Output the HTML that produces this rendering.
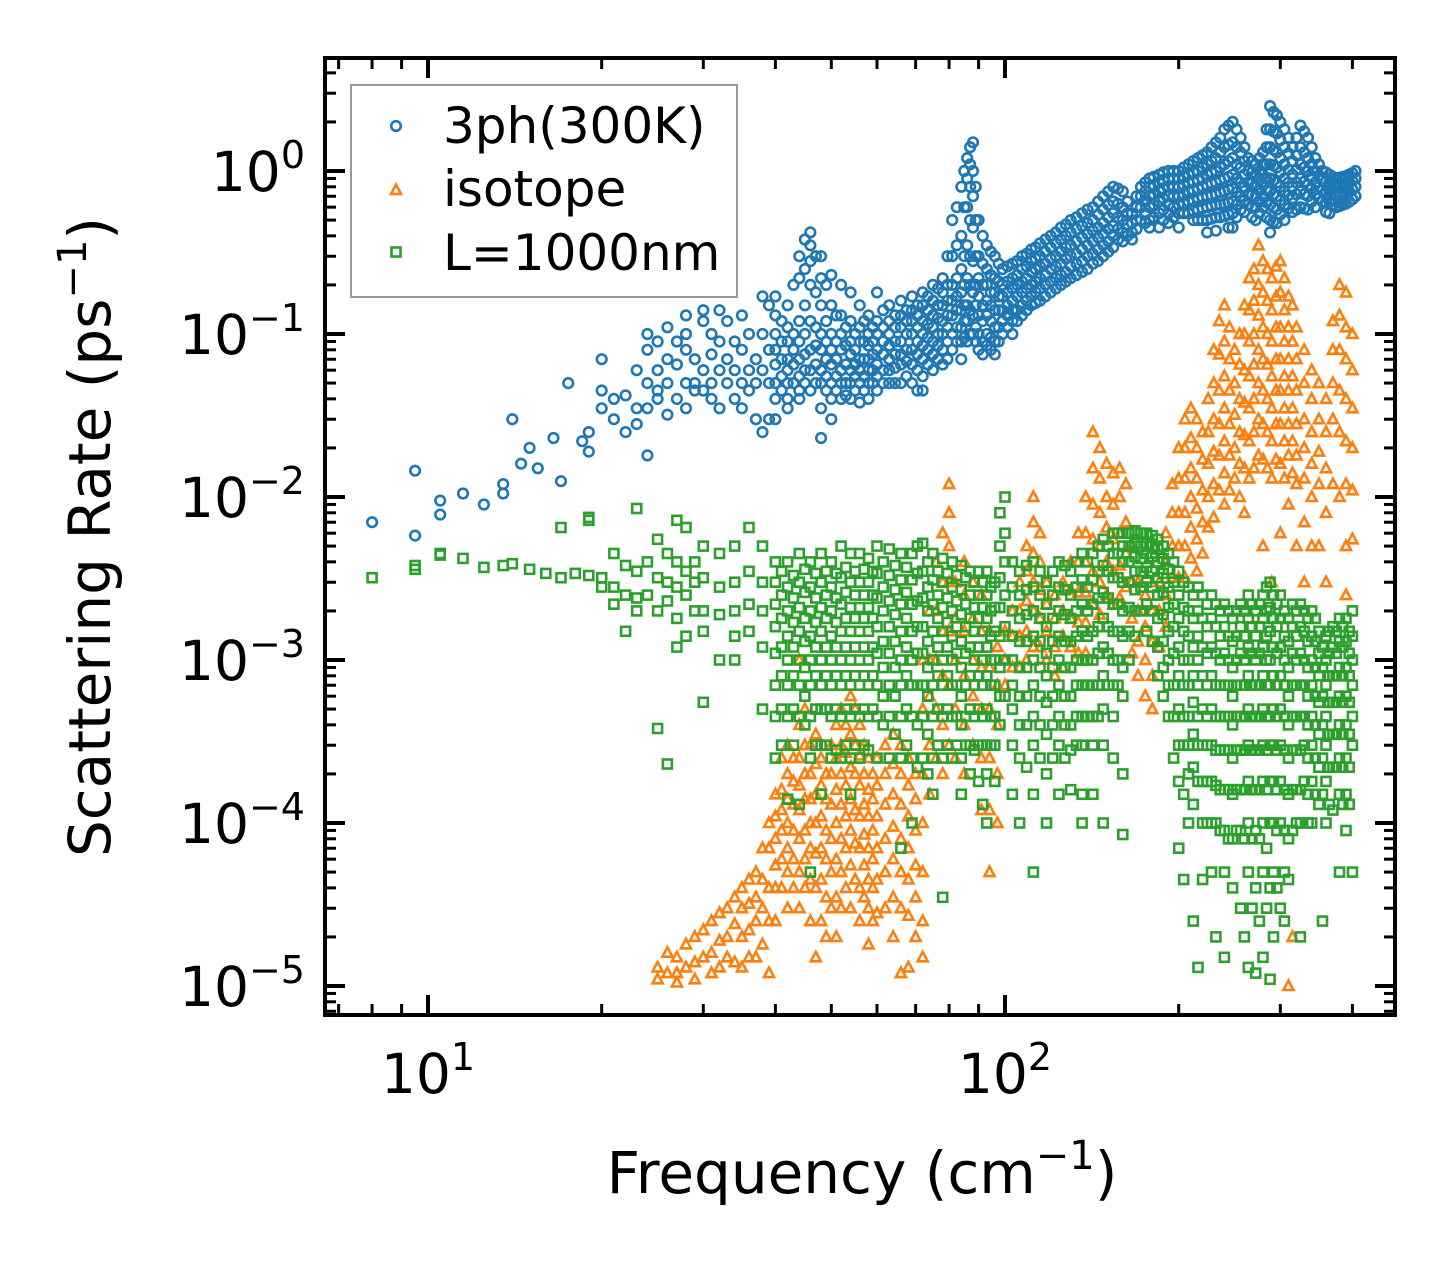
<!DOCTYPE html>
<html><head><meta charset="utf-8"><style>
html,body{margin:0;padding:0;background:#fff;}
svg{display:block;font-family:"DejaVu Sans","Liberation Sans",sans-serif;}
</style></head><body>
<svg id="chart" width="1455" height="1265" viewBox="0 0 1455 1265" xmlns="http://www.w3.org/2000/svg">
<rect width="1455" height="1265" fill="#fff"/>
<g id="plot"></g>
<g id="axes"></g>
</svg>
<script>
// ---- data: [frequency, [rates...]] ----
const series3ph = [
[8,[0.007]],[9.5,[0.0145,0.0058]],[10.5,[0.0095,0.0078]],[11.5,[0.0105]],[12.5,[0.009]],[13.5,[0.012,0.0105]],
[14,[0.03]],[14.5,[0.016]],[15,[0.02]],[15.5,[0.015]],[16.5,[0.023]],[17,[0.0125]],[17.5,[0.05]],[18.5,[0.022]],
[19,[0.025,0.019]],[20,[0.07,0.045,0.035]],[21,[0.03,0.04]],[22,[0.025,0.042]],[23,[0.06,0.035,0.028]],
[24,[0.1,0.08,0.05,0.035,0.018]],[25,[0.09,0.06,0.045,0.04]],[26,[0.11,0.07,0.05,0.032]],[27,[0.09,0.065,0.04]],
[28,[0.13,0.1,0.08,0.05,0.035]],[29,[0.07,0.05,0.045]],[30,[0.12,0.14,0.06,0.045]],[31,[0.1,0.075,0.05,0.04]],
[32,[0.14,0.09,0.06,0.035]],[33,[0.12,0.07,0.05]],[34,[0.09,0.06,0.04]],[35,[0.13,0.08,0.05,0.035]],
[36,[0.1,0.06,0.045]],[37,[0.07,0.05,0.03]],[38,[0.17,0.1,0.06,0.025]],[39,[0.15,0.08,0.05,0.03]],
[40,[0.17,0.13,0.1,0.08,0.065,0.05,0.04,0.03]],[41,[0.12,0.09,0.07,0.055,0.045]],
[42,[0.15,0.11,0.09,0.07,0.06,0.05,0.04,0.035]],[43,[0.2,0.1,0.08,0.065,0.05]],
[44,[0.3,0.22,0.12,0.09,0.07,0.055,0.045,0.04]],[45,[0.38,0.25,0.15,0.1,0.075,0.06,0.05]],
[46,[0.42,0.35,0.28,0.2,0.12,0.08,0.06,0.045]],[47,[0.3,0.18,0.11,0.085,0.065,0.05]],
[48,[0.3,0.22,0.15,0.1,0.08,0.06,0.05,0.035,0.023]],[49,[0.2,0.12,0.09,0.07,0.055,0.045]],
[50,[0.23,0.15,0.1,0.08,0.065,0.05,0.04,0.03]],[51,[0.13,0.09,0.07,0.055,0.045]],
[52,[0.2,0.13,0.1,0.08,0.06,0.05,0.04]],[53,[0.11,0.085,0.065,0.05,0.042]],
[54,[0.18,0.12,0.09,0.075,0.06,0.05,0.04]],[55,[0.1,0.08,0.065,0.055,0.045]],
[56,[0.15,0.11,0.09,0.07,0.06,0.05,0.038]],[57,[0.12,0.09,0.07,0.055,0.045]],
[58,[0.13,0.1,0.085,0.07,0.06,0.05,0.04]],[59,[0.11,0.09,0.075,0.06,0.05]],
[60,[0.18,0.12,0.1,0.08,0.065,0.055,0.045]],[61.5,[0.14,0.11,0.09,0.075,0.06,0.05]],
[63,[0.15,0.12,0.1,0.085,0.07,0.06,0.05]],[64.5,[0.13,0.11,0.09,0.075,0.062,0.05]],
[66,[0.16,0.13,0.11,0.09,0.075,0.065,0.05]],[67.5,[0.14,0.12,0.1,0.08,0.068,0.055]],
[69,[0.17,0.14,0.12,0.1,0.08,0.065,0.05]],[70.5,[0.15,0.13,0.11,0.09,0.075,0.06,0.045]],
[72,[0.18,0.15,0.12,0.1,0.085,0.07,0.055,0.045]],[73.5,[0.17,0.14,0.115,0.095,0.08,0.065]],
[75,[0.2,0.16,0.13,0.11,0.09,0.075,0.06]],[76.5,[0.19,0.15,0.125,0.1,0.085,0.07]],
[78,[0.22,0.18,0.15,0.12,0.1,0.08,0.065]],[79.5,[0.3,0.2,0.16,0.13,0.11,0.09,0.07]],
[81,[0.5,0.3,0.2,0.16,0.13,0.1,0.08]],[82.5,[0.6,0.35,0.22,0.17,0.14,0.11,0.09]],
[84,[0.8,0.4,0.25,0.18,0.14,0.11,0.09,0.07]],[85,[1.0,0.6,0.3,0.2,0.15,0.12,0.095]],
[86,[1.2,0.9,0.6,0.35,0.22,0.15,0.12,0.09]],[87,[1.4,1.1,0.8,0.5,0.3,0.2,0.14,0.1]],
[88,[1.5,1.0,0.7,0.45,0.28,0.18,0.13,0.1]],[89,[0.8,0.5,0.3,0.2,0.15,0.11,0.09]],
[90,[0.5,0.3,0.22,0.17,0.13,0.1,0.08]],[91.5,[0.4,0.27,0.2,0.15,0.12,0.09,0.075]],
[93,[0.35,0.25,0.2,0.16,0.13,0.1,0.085]],[94.5,[0.32,0.23,0.18,0.15,0.12,0.095,0.08]],
[96,[0.3,0.22,0.18,0.14,0.11,0.09,0.075]],[97.5,[0.27,0.21,0.17,0.14,0.11,0.09]],
[99,[0.25,0.2,0.17,0.14,0.12,0.1]],[101,[0.26,0.21,0.18,0.15,0.13,0.11]],
[103,[0.27,0.22,0.19,0.16,0.14,0.12,0.1]],[105,[0.28,0.23,0.2,0.17,0.14,0.12]],
[107,[0.3,0.25,0.21,0.18,0.15,0.13]],[109,[0.31,0.26,0.22,0.19,0.16,0.14]],
[111,[0.33,0.28,0.24,0.2,0.17,0.15]],[113,[0.34,0.29,0.25,0.21,0.18,0.155]],
[115,[0.36,0.3,0.26,0.22,0.19,0.16]],[117.5,[0.38,0.32,0.27,0.23,0.2,0.17]],
[120,[0.4,0.34,0.29,0.25,0.21,0.18]],[122.5,[0.42,0.36,0.3,0.26,0.22,0.19]],
[125,[0.45,0.38,0.32,0.27,0.23,0.2]],[127.5,[0.47,0.4,0.34,0.29,0.24,0.21]],
[130,[0.5,0.42,0.35,0.3,0.26,0.22]],[133,[0.52,0.44,0.37,0.31,0.27,0.23]],
[136,[0.55,0.46,0.39,0.33,0.28,0.24]],[139,[0.58,0.48,0.41,0.35,0.3,0.25]],
[142,[0.6,0.5,0.43,0.37,0.31,0.27]],[145,[0.65,0.54,0.45,0.39,0.33,0.28]],
[148,[0.7,0.58,0.48,0.41,0.35,0.3]],[151,[0.75,0.62,0.52,0.44,0.37,0.32]],
[154,[0.8,0.65,0.55,0.46,0.4,0.34]],[157,[0.78,0.63,0.52,0.44,0.38]],
[160,[0.75,0.6,0.5,0.42,0.37]],[163,[0.65,0.55,0.47,0.4]],[166,[0.55,0.48,0.42,0.38]],
[169,[0.7,0.6,0.5,0.44]],[172,[0.8,0.7,0.6,0.5]],[175,[0.85,0.75,0.65,0.55,0.48]],
[178,[0.9,0.8,0.7,0.6,0.5,0.45]],[181,[0.92,0.82,0.72,0.62,0.52]],
[185,[0.95,0.85,0.75,0.65,0.55,0.45]],[188,[0.98,0.88,0.78,0.68,0.58,0.5]],
[192,[1.0,0.9,0.8,0.7,0.62,0.55,0.48]],[196,[1.0,0.9,0.8,0.7,0.6,0.52]],
[200,[1.0,0.9,0.8,0.7,0.62,0.55,0.45]],[204,[1.05,0.92,0.82,0.72,0.63,0.55]],
[208,[1.1,0.95,0.85,0.75,0.65,0.55]],[212,[1.15,0.98,0.86,0.76,0.66,0.57,0.5]],
[216,[1.2,1.0,0.88,0.78,0.68,0.58,0.5]],[220,[1.25,1.05,0.9,0.8,0.69,0.59,0.5]],
[224,[1.3,1.1,0.95,0.82,0.7,0.6,0.5,0.42]],[228,[1.4,1.15,0.98,0.84,0.71,0.61,0.51]],
[232,[1.5,1.2,1.0,0.85,0.72,0.62,0.52,0.43]],[236,[1.6,1.3,1.05,0.88,0.74,0.62,0.52]],
[240,[1.8,1.4,1.1,0.9,0.75,0.63,0.53]],[244,[1.9,1.45,1.15,0.92,0.77,0.64,0.54,0.45]],
[248,[2.0,1.5,1.2,0.95,0.78,0.65,0.55,0.45]],[252,[1.8,1.4,1.1,0.9,0.74,0.62,0.52]],
[256,[1.6,1.3,1.05,0.85,0.7,0.58]],[260,[1.4,1.15,0.95,0.8,0.66,0.56]],
[264,[1.2,1.0,0.85,0.72,0.62]],[268,[1.15,0.98,0.84,0.71,0.6,0.52]],
[272,[1.1,0.95,0.82,0.7,0.6,0.5]],[276,[1.2,1.0,0.88,0.76,0.65,0.55]],
[280,[1.3,1.1,0.95,0.82,0.7,0.6]],[284,[1.8,1.4,1.1,0.9,0.76,0.64,0.52]],
[288,[2.5,1.8,1.4,1.1,0.9,0.75,0.62,0.5,0.42]],[292,[2.3,1.75,1.35,1.08,0.88,0.72,0.6,0.49]],
[296,[2.2,1.7,1.3,1.05,0.85,0.7,0.58,0.48]],[300,[2.0,1.55,1.2,0.98,0.8,0.66,0.54]],
[305,[1.8,1.4,1.1,0.9,0.75,0.62,0.5]],[310,[1.6,1.28,1.02,0.85,0.71,0.59]],
[315,[1.4,1.15,0.95,0.8,0.68,0.56]],[320,[1.6,1.25,1.02,0.85,0.72,0.58]],
[325,[1.9,1.4,1.1,0.9,0.75,0.6]],[330,[1.75,1.3,1.05,0.86,0.72,0.59]],
[335,[1.6,1.2,1.0,0.82,0.7,0.58]],[340,[1.4,1.1,0.92,0.78,0.65]],
[345,[1.2,1.0,0.85,0.72,0.6]],[350,[1.1,0.94,0.8,0.68]],[355,[1.0,0.88,0.76,0.65]],
[360,[0.98,0.86,0.75,0.64,0.56]],[365,[0.95,0.85,0.75,0.65,0.55]],[370,[0.92,0.82,0.72,0.62]],
[375,[0.9,0.8,0.7,0.6]],[380,[0.91,0.81,0.71,0.61]],[385,[0.92,0.82,0.72,0.62]],
[390,[0.93,0.83,0.73,0.63]],[395,[0.95,0.85,0.75,0.65]],[400,[0.97,0.87,0.77,0.67]],[405,[1.0,0.9,0.8,0.7]]
];
const seriesIsotope = [
[25,[1.3e-5,1.1e-5]],[26,[1.2e-5,1.6e-5]],[27,[1.5e-5,1.2e-5,1.05e-5]],[28,[1.8e-5,1.3e-5]],
[29,[2e-5,1.4e-5,1.1e-5]],[30,[2.2e-5,1.5e-5]],[31,[2.5e-5,1.6e-5,1.2e-5]],[32,[2.8e-5,1.9e-5,1.3e-5]],
[33,[3e-5,2e-5,1.5e-5]],[34,[3.5e-5,2.4e-5,1.4e-5]],[35,[4e-5,3e-5,2e-5,1.3e-5]],[36,[4.5e-5,3.2e-5,2.2e-5,1.5e-5]],
[37,[5e-5,3.5e-5,2.5e-5,1.5e-5]],[38,[7e-5,4.5e-5,3e-5,1.8e-5]],[39,[1e-4,7e-5,4e-5,2.5e-5,1.2e-5]],
[40,[1.5e-4,1.1e-4,8e-5,5.5e-5,4e-5,2.5e-5]],[41,[2.5e-4,1.6e-4,1.2e-4,9e-5,6e-5,4e-5]],
[42,[3e-4,2e-4,1.4e-4,1e-4,7e-5,5e-5,3e-5]],[43,[2.5e-4,1.8e-4,1.3e-4,9e-5,6e-5,4e-5]],
[44,[1e-3,4e-4,2.5e-4,1.7e-4,1.2e-4,8e-5,5e-5,3e-5]],[45,[5e-4,3e-4,2e-4,1.4e-4,9e-5,6e-5,4e-5]],
[46,[3e-4,2e-4,1.4e-4,1e-4,7e-5,4.5e-5,2.5e-5]],[47,[3.5e-4,2.3e-4,1.5e-4,1e-4,6.5e-5,4e-5,1.5e-5]],
[48,[2.5e-4,1.7e-4,1.1e-4,7e-5,4.5e-5,2.5e-5]],[49,[2e-4,1.4e-4,9e-5,6e-5,3.5e-5,2e-5]],
[50,[3e-4,2e-4,1.3e-4,8e-5,5e-5,3e-5]],[51,[4e-4,2.5e-4,1.6e-4,1e-4,6e-5,3.5e-5,2e-5]],
[52,[5e-4,3e-4,2e-4,1.3e-4,8e-5,5e-5,3e-5]],[53,[4e-4,2.7e-4,1.7e-4,1.1e-4,7e-5,4e-5]],
[54,[6e-4,3.5e-4,2.2e-4,1.4e-4,9e-5,5.5e-5,3e-5]],[55,[5e-4,3e-4,2e-4,1.2e-4,7.5e-5,4.5e-5]],
[56,[4e-4,2.6e-4,1.7e-4,1.1e-4,7e-5,4e-5,2.5e-5]],[57,[3e-4,2e-4,1.3e-4,8.5e-5,5.5e-5,3.5e-5]],
[58,[2.5e-4,1.6e-4,1.1e-4,7e-5,4.5e-5,3e-5,1.8e-5]],[59,[2e-4,1.4e-4,9e-5,6e-5,4e-5,2.5e-5]],
[60,[2.5e-4,1.7e-4,1.1e-4,7e-5,4.5e-5,2.8e-5]],[62,[3e-4,2e-4,1.3e-4,8e-5,5e-5,3e-5]],
[64,[3.5e-4,2.3e-4,1.5e-4,9.5e-5,6e-5,3.5e-5,2e-5]],[66,[3e-4,2e-4,1.3e-4,8e-5,5e-5,3e-5,1.2e-5]],
[68,[2.5e-4,1.7e-4,1.1e-4,7e-5,4.5e-5,2.7e-5,1.3e-5]],[70,[2e-4,1.4e-4,9e-5,5.5e-5,3.5e-5,2e-5]],
[72,[1e-3,5e-4,2e-4,1e-4,5e-5,2.5e-5,1.5e-5]],[74,[2e-3,1e-3,6e-4,3e-4,1.5e-4]],
[76,[4e-3,2e-3,1e-3,5e-4,2.5e-4]],[78,[6e-3,3e-3,1.5e-3,8e-4,4e-4,2e-4]],
[80,[1.2e-2,8e-3,5e-3,3e-3,1.5e-3,7e-4,3e-4]],[82,[3e-3,1.8e-3,1e-3,5e-4,2.5e-4]],
[85,[4e-3,2.5e-3,1.5e-3,8e-4,4e-4,2e-4]],[88,[3e-3,1.8e-3,1e-3,6e-4,3e-4]],
[91,[2.5e-3,1.5e-3,9e-4,5e-4,2.5e-4,1.2e-4]],[94,[1.5e-3,9e-4,5e-4,2.5e-4,1.2e-4,5e-5]],
[97,[1.2e-3,7e-4,4e-4,2e-4,1e-4]],[100,[1.5e-3,1e-3,7e-4]],[103,[2e-3,1.4e-3,9e-4]],
[106,[3e-3,2e-3,1.4e-3,9e-4]],[109,[5e-3,3.5e-3,2.3e-3,1.5e-3,1e-3]],[112,[1e-2,7e-3,4.5e-3,3e-3,2e-3,1.2e-3]],
[115,[6e-3,4e-3,2.7e-3,1.8e-3,1.2e-3]],[118,[3e-3,2.2e-3,1.5e-3,1e-3]],[122,[2.5e-3,1.8e-3,1.2e-3,8e-4]],
[126,[3e-3,2e-3,1.4e-3,9e-4]],[130,[4e-3,2.7e-3,1.8e-3,1.2e-3]],[134,[6e-3,4e-3,2.6e-3,1.7e-3,1.1e-3]],
[138,[1e-2,6e-3,4e-3,2.6e-3,1.7e-3,1.1e-3]],[142,[2.5e-2,1.5e-2,9e-3,5.5e-3,3.5e-3,2.2e-3]],
[146,[2e-2,1.3e-2,8e-3,5e-3,3e-3,1.9e-3]],[150,[1.6e-2,1e-2,6.5e-3,4e-3,2.5e-3]],
[154,[1.4e-2,9e-3,5.5e-3,3.5e-3,2.2e-3]],[158,[1.5e-2,1e-2,6e-3,3.8e-3,2.4e-3]],
[162,[1.2e-2,7e-3,4.5e-3,2.8e-3]],[166,[5e-3,3e-3,1.8e-3,1.1e-3]],
[170,[3e-3,2e-3,1.3e-3,8e-4]],[175,[2.5e-3,1.6e-3,1e-3,6e-4]],[180,[2e-3,1.3e-3,8e-4,5e-4]],
[185,[3e-3,2e-3,1.2e-3]],[190,[6e-3,4e-3,2.5e-3,1.6e-3]],[195,[1.2e-2,8e-3,5e-3,3.2e-3]],
[200,[2e-2,1.3e-2,8e-3,5e-3,3.2e-3]],[205,[3e-2,2e-2,1.3e-2,8e-3,5e-3,3.2e-3]],
[210,[3.5e-2,2.3e-2,1.5e-2,1e-2,6.5e-3,4.2e-3]],[215,[3e-2,2e-2,1.3e-2,8.5e-3,5.5e-3,3.5e-3]],
[220,[2.5e-2,1.7e-2,1.1e-2,7e-3,4.5e-3]],[225,[4e-2,2.5e-2,1.6e-2,1e-2,6.5e-3]],
[230,[8e-2,5e-2,3e-2,1.9e-2,1.2e-2,7.5e-3]],[235,[1.2e-1,7.5e-2,4.5e-2,2.8e-2,1.8e-2,1.1e-2]],
[240,[1.5e-1,9e-2,5.5e-2,3.5e-2,2.2e-2,1.4e-2,9e-3]],[245,[1.1e-1,7e-2,4.5e-2,2.8e-2,1.8e-2,1.1e-2]],
[250,[8e-2,5e-2,3.2e-2,2e-2,1.3e-2]],[255,[1e-1,6.5e-2,4e-2,2.5e-2,1.6e-2,1e-2]],
[260,[1.5e-1,1e-1,6e-2,3.8e-2,2.4e-2,1.5e-2,8e-3]],[265,[2.2e-1,1.4e-1,9e-2,5.5e-2,3.5e-2,2.2e-2,1.3e-2]],
[270,[2.5e-1,1.6e-1,1e-1,6.5e-2,4e-2,2.5e-2,1.5e-2]],[275,[3.5e-1,2e-1,1.3e-1,8e-2,5e-2,3e-2,1.8e-2]],
[280,[2.8e-1,1.8e-1,1.1e-1,7e-2,4.5e-2,2.8e-2,1.7e-2,5e-3]],[285,[2.5e-1,1.6e-1,1e-1,6.5e-2,4e-2,2.5e-2,1.5e-2]],
[290,[2.2e-1,1.4e-1,9e-2,5.5e-2,3.5e-2,2.2e-2,1.3e-2,3e-3]],[295,[2.6e-1,1.7e-1,1.1e-1,7e-2,4.5e-2,2.8e-2,1.7e-2]],
[300,[2.8e-1,1.8e-1,1.1e-1,7e-2,4.5e-2,2.8e-2,1.6e-2,6e-3]],[305,[2.2e-1,1.4e-1,9e-2,5.5e-2,3.5e-2,2.2e-2,1.3e-2]],
[310,[1.7e-1,1.1e-1,7e-2,4.5e-2,2.8e-2,1.8e-2,9e-3,1e-5]],[315,[1.5e-1,9e-2,5.5e-2,3.5e-2,2.2e-2,1.4e-2,2e-5]],
[320,[1.1e-1,7e-2,4.5e-2,2.8e-2,1.8e-2,1.2e-2,5e-3]],[330,[8e-2,5e-2,3e-2,2e-2,1.3e-2,7e-3,3e-3]],
[340,[6e-2,4e-2,2.5e-2,1.6e-2,1e-2,5e-3]],[350,[5e-2,3e-2,1.9e-2,1.2e-2,5e-3]],
[360,[4e-2,2.5e-2,1.5e-2,8e-3,3e-3]],[370,[1.2e-1,8e-2,5e-2,3e-2,1.2e-2]],
[380,[2e-1,1.3e-1,8e-2,4.5e-2,2.5e-2,1e-2]],[390,[1.8e-1,1.1e-1,7e-2,4e-2,2.2e-2,1.2e-2,5e-3,2.5e-3]],
[400,[1e-1,6e-2,3.5e-2,2e-2,1.1e-2,5.5e-3]]
];
const seriesBoundary = [
[8,[0.0032]],[9.5,[0.0036,0.0038]],[10.5,[0.0044,0.0045]],[11.5,[0.0042]],[12.5,[0.0037]],[13.5,[0.0038]],
[14,[0.0039]],[15,[0.0036]],[16,[0.0034]],[17,[0.0065,0.0032]],[18,[0.0034]],[19,[0.0075,0.0072,0.0033]],
[20,[0.0032,0.0028]],[21,[0.0045,0.0028,0.0022]],[22,[0.0038,0.0025,0.0015]],[23,[0.0085,0.0035,0.0024,0.002]],
[24,[0.004,0.0025]],[25,[0.0055,0.0032,0.002,0.00038]],[26,[0.0045,0.003,0.0023,0.00023]],
[27,[0.0072,0.004,0.0028,0.0018,0.0012]],[28,[0.0065,0.0035,0.0025,0.0014]],[29,[0.004,0.003,0.002]],
[30,[0.005,0.0032,0.002,0.0015,0.00055]],[32,[0.0045,0.0028,0.0019,0.001]],[34,[0.005,0.003,0.002,0.0014,0.001]],
[36,[0.0065,0.0035,0.0022,0.0015]],[38,[0.005,0.003,0.002,0.0012,0.0005]],
[40,[0.004,0.003,0.0022,0.0016,0.0011,0.0007,0.00045,0.00025]],[41,[0.0035,0.0025,0.0018,0.0012,0.0008,0.0005,0.0003]],
[42,[0.004,0.0028,0.002,0.0014,0.001,0.0007,0.00045,0.00014]],[43,[0.0033,0.0024,0.0017,0.0012,0.0008,0.0005,0.0003]],
[44,[0.0045,0.003,0.0021,0.0015,0.001,0.0007,0.00045,0.00013]],[45,[0.0036,0.0026,0.0018,0.0013,0.0009,0.0006,0.0004]],
[46,[0.004,0.0028,0.002,0.0014,0.001,0.0007,0.00045,0.00025,5e-5]],[47,[0.0034,0.0024,0.0017,0.0012,0.0008,0.0005,0.0003]],
[48,[0.0045,0.003,0.0021,0.0015,0.001,0.0007,0.0005,0.0003,0.00015]],[49,[0.0035,0.0025,0.0018,0.0012,0.0008,0.0005,0.0003]],
[50,[0.004,0.0028,0.002,0.0014,0.001,0.0007,0.00045,0.00025]],[51,[0.0034,0.0024,0.0017,0.0012,0.0008,0.0005,0.00028]],
[52,[0.005,0.0032,0.0022,0.0015,0.001,0.0007,0.00045,0.00025]],[53,[0.0037,0.0026,0.0018,0.0012,0.0008,0.0005,0.0003]],
[54,[0.0045,0.003,0.0021,0.0015,0.001,0.0007,0.00045,0.00025,0.00015]],[55,[0.0035,0.0025,0.0018,0.0012,0.0008,0.0005,0.0003]],
[56,[0.0045,0.003,0.0021,0.0015,0.001,0.0007,0.00045,0.00025]],[57,[0.0036,0.0025,0.0018,0.0012,0.0008,0.0005,0.0003]],
[58,[0.0042,0.003,0.0021,0.0015,0.001,0.0007,0.00045,0.00028]],[59,[0.0035,0.0025,0.0018,0.0012,0.0008,0.0005]],
[60,[0.005,0.0034,0.0024,0.0016,0.0011,0.0007,0.00045,0.00025]],[61.5,[0.004,0.0028,0.002,0.0013,0.0009,0.0006,0.0004]],
[63,[0.0048,0.0033,0.0023,0.0016,0.0011,0.0007,0.00045,0.00025]],[64.5,[0.0038,0.0027,0.0019,0.0013,0.0009,0.0006,0.00035]],
[66,[0.0045,0.0031,0.0022,0.0015,0.001,0.0007,0.00045,0.00025,7e-5]],[67.5,[0.0037,0.0026,0.0018,0.0012,0.0008,0.0005,0.0003]],
[69,[0.0045,0.0031,0.0022,0.0015,0.001,0.0007,0.00045,0.00025,0.0001]],[70.5,[0.005,0.0034,0.0023,0.0016,0.0011,0.0007,0.0004,0.00022]],
[72,[0.0052,0.0035,0.0024,0.0016,0.0011,0.0007,0.00045,0.00025]],[73.5,[0.004,0.0028,0.002,0.0013,0.0009,0.0006,0.00035,0.0002]],
[75,[0.0045,0.0031,0.0022,0.0015,0.001,0.0007,0.00045,0.00025,0.00015]],[76.5,[0.0035,0.0025,0.0018,0.0012,0.0008,0.0005,0.0003]],
[78,[0.0042,0.003,0.0021,0.0015,0.001,0.0007,0.00045,0.00025,3.5e-5]],[79.5,[0.0034,0.0024,0.0017,0.0012,0.0008,0.0005,0.0003]],
[81,[0.004,0.0028,0.002,0.0014,0.001,0.0007,0.00045,0.00025]],[82.5,[0.0033,0.0023,0.0016,0.0011,0.0007,0.00045,0.0003]],
[84,[0.0038,0.0027,0.0019,0.0013,0.0009,0.0006,0.0004,0.00025,0.00015]],[85.5,[0.0032,0.0022,0.0016,0.0011,0.0007,0.00045,0.0003]],
[87,[0.0035,0.0025,0.0018,0.0012,0.0008,0.0005,0.0003,0.0002]],[88.5,[0.003,0.0021,0.0015,0.001,0.0007,0.00045,0.00028]],
[90,[0.0035,0.0025,0.0018,0.0012,0.0008,0.0005,0.0003,0.00018]],[91.5,[0.003,0.0021,0.0015,0.001,0.0007,0.00045,0.0003,0.00013]],
[93,[0.0035,0.0025,0.0018,0.0012,0.0008,0.0005,0.0003,0.0002,0.0001]],[94.5,[0.0028,0.002,0.0014,0.001,0.0007,0.00045,0.0003]],
[96,[0.003,0.0021,0.0015,0.001,0.0007,0.00045,0.0003,0.00018]],[98,[0.008,0.005,0.0032,0.0021,0.0014,0.0009,0.0006,0.0004]],
[100,[0.01,0.006,0.004,0.0025,0.0016,0.001,0.0006]],[103,[0.004,0.0028,0.002,0.0014,0.001,0.0007,0.0005,0.0003,0.00015]],
[106,[0.0035,0.0025,0.0018,0.0013,0.0009,0.0006,0.0004,0.00025,0.0001]],[109,[0.0038,0.0027,0.0019,0.0013,0.0009,0.0006,0.0004,0.00022]],
[112,[0.004,0.0028,0.002,0.0014,0.001,0.0007,0.00045,0.0003,0.00015,5e-5]],[115,[0.0035,0.0025,0.0018,0.0013,0.0009,0.0006,0.0004,0.00025]],
[118,[0.003,0.0022,0.0016,0.0011,0.0008,0.00055,0.00035,0.0002,0.0001]],[121,[0.0035,0.0025,0.0018,0.0013,0.0009,0.0006,0.0004,0.00025]],
[124,[0.004,0.0028,0.002,0.0014,0.001,0.0007,0.00045,0.0003,0.00015]],[127,[0.0038,0.0027,0.0019,0.0013,0.0009,0.0006,0.0004,0.00025]],
[130,[0.0035,0.0025,0.0018,0.0013,0.0009,0.0006,0.0004,0.00028,0.00016]],[133,[0.004,0.0028,0.002,0.0014,0.001,0.0007,0.00045,0.0003]],
[136,[0.0045,0.0031,0.0022,0.0015,0.001,0.0007,0.00045,0.0003,0.00015,0.0001]],[139,[0.004,0.0028,0.002,0.0014,0.001,0.0007,0.00045]],
[142,[0.0045,0.0031,0.0022,0.0015,0.001,0.0007,0.00045,0.0003,0.00015]],[145,[0.005,0.0035,0.0024,0.0016,0.0011,0.0007,0.00045]],
[148,[0.0055,0.0038,0.0026,0.0018,0.0012,0.0008,0.0005,0.0003,0.0001]],[151,[0.005,0.0035,0.0024,0.0016,0.0011,0.0007]],
[154,[0.006,0.0045,0.0032,0.0022,0.0015,0.001,0.0007,0.00045,0.00025]],[157,[0.006,0.0045,0.0032,0.0022,0.0015,0.001,0.0007]],
[160,[0.006,0.005,0.004,0.003,0.002,0.0014,0.0009,0.0006,0.0002,8.5e-5]],[164,[0.006,0.005,0.004,0.003,0.0021,0.0015,0.001]],
[168,[0.0062,0.0052,0.0043,0.0035,0.0027,0.002,0.0014]],[172,[0.006,0.005,0.0042,0.0035,0.0028,0.002]],
[176,[0.006,0.0052,0.0045,0.0037,0.003,0.0022,0.0015]],[180,[0.0058,0.005,0.0043,0.0035,0.0028,0.002,0.0013]],
[184,[0.0055,0.0048,0.004,0.0032,0.0025,0.0018,0.0012,0.0008]],[188,[0.005,0.0042,0.0034,0.0026,0.0019,0.0013,0.0009,0.0006]],
[192,[0.0045,0.0036,0.0028,0.0021,0.0015,0.001,0.0007,0.00045]],[196,[0.004,0.003,0.0022,0.0016,0.0011,0.0007,0.00045,0.00025]],
[200,[0.0035,0.0025,0.0018,0.0012,0.0008,0.0005,0.0003,0.00018,7e-5]],[204,[0.003,0.0021,0.0015,0.001,0.0007,0.00045,0.0003,0.00015,4.5e-5]],
[208,[0.0028,0.002,0.0014,0.001,0.0007,0.00045,0.0003,0.0002,0.0001]],[212,[0.0025,0.0018,0.0012,0.0008,0.00055,0.00035,0.00022,0.00013,2.5e-5]],
[216,[0.0028,0.002,0.0014,0.001,0.0007,0.00045,0.0003,0.00018,1.3e-5]],[220,[0.0025,0.0018,0.0012,0.0008,0.0005,0.0003,0.00018,0.0001,4.5e-5]],
[224,[0.0022,0.0016,0.0011,0.0007,0.00045,0.0003,0.00018,0.0001]],[228,[0.0025,0.0018,0.0012,0.0008,0.0005,0.0003,0.00018,0.0001,5e-5]],
[232,[0.0022,0.0016,0.0011,0.0007,0.00045,0.00028,0.00017,0.0001,2e-5]],[236,[0.002,0.0014,0.001,0.0007,0.00045,0.00028,0.00016,9e-5]],
[240,[0.0022,0.0016,0.0011,0.0007,0.00045,0.00028,0.00016,9e-5,5e-5,1.5e-5]],[244,[0.002,0.0014,0.001,0.0007,0.00045,0.00028,0.00016,8e-5]],
[248,[0.0018,0.0013,0.0009,0.0006,0.0004,0.00025,0.00015,8e-5,4e-5]],[252,[0.002,0.0014,0.001,0.0007,0.00045,0.00028,0.00016,9e-5]],
[256,[0.0022,0.0016,0.0011,0.0007,0.00045,0.00028,0.00016,9e-5,3e-5]],[260,[0.002,0.0014,0.001,0.0007,0.00045,0.00028,0.00016,8e-5,2e-5]],
[264,[0.0025,0.0018,0.0012,0.0008,0.0005,0.0003,0.00018,0.0001,5e-5,1.3e-5]],[268,[0.0022,0.0016,0.0011,0.0007,0.00045,0.00028,0.00016,8e-5,3e-5]],
[272,[0.002,0.0014,0.001,0.0007,0.00045,0.00028,0.00016,9e-5,4e-5,1.2e-5]],[276,[0.0022,0.0016,0.0011,0.0007,0.00045,0.00028,0.00016,8e-5,2.5e-5]],
[280,[0.0025,0.0018,0.0012,0.0008,0.0005,0.0003,0.00018,0.0001,5e-5,1.5e-5]],[284,[0.0028,0.002,0.0014,0.001,0.0007,0.00045,0.00028,0.00016,7e-5,3e-5]],
[288,[0.003,0.0021,0.0015,0.001,0.0007,0.00045,0.0003,0.00018,0.0001,4e-5,1.1e-5]],[292,[0.0025,0.0018,0.0012,0.0008,0.0005,0.0003,0.00018,0.0001,5e-5,2e-5]],
[296,[0.0022,0.0016,0.0011,0.0007,0.00045,0.00028,0.00016,9e-5,4e-5]],[300,[0.0025,0.0018,0.0012,0.0008,0.0005,0.0003,0.00018,0.0001,3e-5]],
[305,[0.002,0.0014,0.001,0.0007,0.00045,0.00028,0.00016,9e-5,5e-5,2.5e-5]],[310,[0.0018,0.0013,0.0009,0.0006,0.0004,0.00025,0.00015,8e-5,4.5e-5]],
[315,[0.0022,0.0016,0.0011,0.0007,0.00045,0.00028,0.00016,9e-5]],[320,[0.002,0.0014,0.001,0.0007,0.00045,0.00028,0.00016,0.0001]],
[325,[0.0022,0.0016,0.0011,0.0007,0.00045,0.00028,0.00016,0.0001,2e-5]],[330,[0.002,0.0015,0.001,0.0007,0.00045,0.0003,0.00018]],
[335,[0.0018,0.0013,0.0009,0.0006,0.0004,0.00025,0.00015,0.0001]],[340,[0.002,0.0014,0.001,0.0007,0.00045,0.0003,0.00018,0.0001]],
[345,[0.0018,0.0013,0.0009,0.0006,0.0004,0.00025,0.00015]],[350,[0.0015,0.0011,0.0008,0.00055,0.00035,0.00022,0.00013]],
[355,[0.0012,0.0009,0.0006,0.0004,0.00025,0.00015,2.5e-5]],[360,[0.0014,0.001,0.0007,0.00045,0.0003,0.00018,0.0001]],
[365,[0.0015,0.0011,0.0008,0.00055,0.00035,0.00022,0.00013]],[370,[0.0016,0.0012,0.0008,0.00055,0.00035,0.00022,0.00012]],
[375,[0.0015,0.0011,0.0008,0.00055,0.00035,0.00022]],[380,[0.0018,0.0013,0.0009,0.0006,0.0004,0.00025,0.00015,5e-5]],
[385,[0.0016,0.0012,0.0008,0.00055,0.00035,0.00022,0.00013]],[390,[0.0018,0.0013,0.0009,0.0006,0.0004,0.00025,0.00015,9e-5]],
[395,[0.0015,0.0011,0.0008,0.00055,0.00035,0.00022,0.00013]],[400,[0.002,0.0014,0.001,0.0007,0.00045,0.0003,5e-5]]
];
const xTickExps = [1, 2];
const yTickExps = [0, -1, -2, -3, -4, -5];

// ---- axes geometry ----
const L = 325, R = 1395, T = 58, B = 1015;
const xLogMin = 1 - (428 - L) / 577, xDec = 577;
const yLogMax = 0 + (171 - T) / 163, yDec = 163;
function xs(f) { return L + (Math.log10(f) - xLogMin) * xDec; }
function ys(r) { return T + (yLogMax - Math.log10(r)) * yDec; }

const NS = "http://www.w3.org/2000/svg";
function mk(tag, attrs, parent) {
  const e = document.createElementNS(NS, tag);
  for (const k in attrs) e.setAttribute(k, attrs[k]);
  parent.appendChild(e);
  return e;
}
const plot = document.getElementById('plot');
const axes = document.getElementById('axes');

const defs = mk('defs', {}, plot);
const cp = mk('clipPath', {id: 'clip'}, defs);
mk('rect', {x: L, y: T, width: R - L, height: B - T}, cp);

function drawSeries(data, name, color, shape) {
  const g = mk('g', {'clip-path': 'url(#clip)', fill: 'none', stroke: color, 'stroke-width': 2.6}, plot);
  
  
  data.forEach(([f, rates]) => {
    rates.forEach(r => {
      const x = xs(f), y = ys(r);
      let m;
      if (shape === 'circle') m = mk('circle', {cx: x.toFixed(1), cy: y.toFixed(1), r: 4.8}, g);
      else if (shape === 'tri') m = mk('polygon', {points: `${(x).toFixed(1)},${(y-5.5).toFixed(1)} ${(x-5).toFixed(1)},${(y+4).toFixed(1)} ${(x+5).toFixed(1)},${(y+4).toFixed(1)}`}, g);
      else m = mk('rect', {x: (x-4.5).toFixed(1), y: (y-4.5).toFixed(1), width: 9, height: 9}, g);
      
      
    });
  });
}
drawSeries(series3ph, '3ph', '#1f77b4', 'circle');
drawSeries(seriesIsotope, 'isotope', '#ff7f0e', 'tri');
drawSeries(seriesBoundary, 'boundary', '#2ca02c', 'rect');

const frame = mk('rect', {x: L, y: T, width: R - L, height: B - T, fill: 'none', stroke: '#000', 'stroke-width': 4}, axes);



const tg = mk('g', {stroke: '#000'}, axes);


for (let e = 0; e <= 2; e++) {
  for (let m = 1; m <= 9; m++) {
    const f = m * Math.pow(10, e);
    const x = xs(f);
    if (x < L || x > R) continue;
    const len = m === 1 ? 20 : 11, w = m === 1 ? 4 : 3;
    mk('line', {x1: x, x2: x, y1: B, y2: B - len, 'stroke-width': w}, tg);
    mk('line', {x1: x, x2: x, y1: T, y2: T + len, 'stroke-width': w}, tg);
  }
}
for (let e = -6; e <= 0; e++) {
  for (let m = 1; m <= 9; m++) {
    const r = m * Math.pow(10, e);
    const y = ys(r);
    if (y < T || y > B) continue;
    const len = m === 1 ? 20 : 11, w = m === 1 ? 4 : 3;
    mk('line', {x1: L, x2: L + len, y1: y, y2: y, 'stroke-width': w}, tg);
    mk('line', {x1: R, x2: R - len, y1: y, y2: y, 'stroke-width': w}, tg);
  }
}

xTickExps.forEach(e => {
  const t = mk('text', {x: xs(Math.pow(10, e)), y: 1093, 'font-size': 55, 'text-anchor': 'middle', fill: '#000'}, axes);
  
  
  t.appendChild(document.createTextNode('10'));
  const s = mk('tspan', {'font-size': 38, dy: -23}, t);
  s.textContent = String(e);
});
yTickExps.forEach(e => {
  const t = mk('text', {x: 305, y: ys(Math.pow(10, e)) + 20, 'font-size': 55, 'text-anchor': 'end', fill: '#000'}, axes);
  
  
  t.appendChild(document.createTextNode('10'));
  const s = mk('tspan', {'font-size': 38, dy: -23}, t);
  s.textContent = e < 0 ? '\u2212' + (-e) : String(e);
});
</script>
<script>
(function(){
const svg = document.getElementById('chart');
svg.insertAdjacentHTML('beforeend', `
<text x="862" y="1193" font-size="58" text-anchor="middle" fill="#000">Frequency (cm<tspan font-size="40" dy="-24">−1</tspan><tspan dy="24">)</tspan></text>
<text transform="translate(110,537) rotate(-90)" font-size="58" text-anchor="middle" fill="#000">Scattering Rate (ps<tspan font-size="40" dy="-24">−1</tspan><tspan dy="24">)</tspan></text>
<g>
<rect x="351" y="85" width="386" height="212" fill="#fff" fill-opacity="0.8" stroke="#999" stroke-width="2"/>
<g>
<circle cx="396" cy="126" r="4.8" fill="none" stroke="#1f77b4" stroke-width="2.6"/>
<text x="443" y="143" font-size="50" fill="#000">3ph(300K)</text></g>
<g>
<polygon points="396,184.5 391,194 401,194" fill="none" stroke="#ff7f0e" stroke-width="2.6"/>
<text x="443" y="206" font-size="50" fill="#000">isotope</text></g>
<g>
<rect x="391.5" y="247.5" width="9" height="9" fill="none" stroke="#2ca02c" stroke-width="2.6"/>
<text x="443" y="270" font-size="50" fill="#000">L=1000nm</text></g>
</g>`);
})();
</script>
</body></html>
